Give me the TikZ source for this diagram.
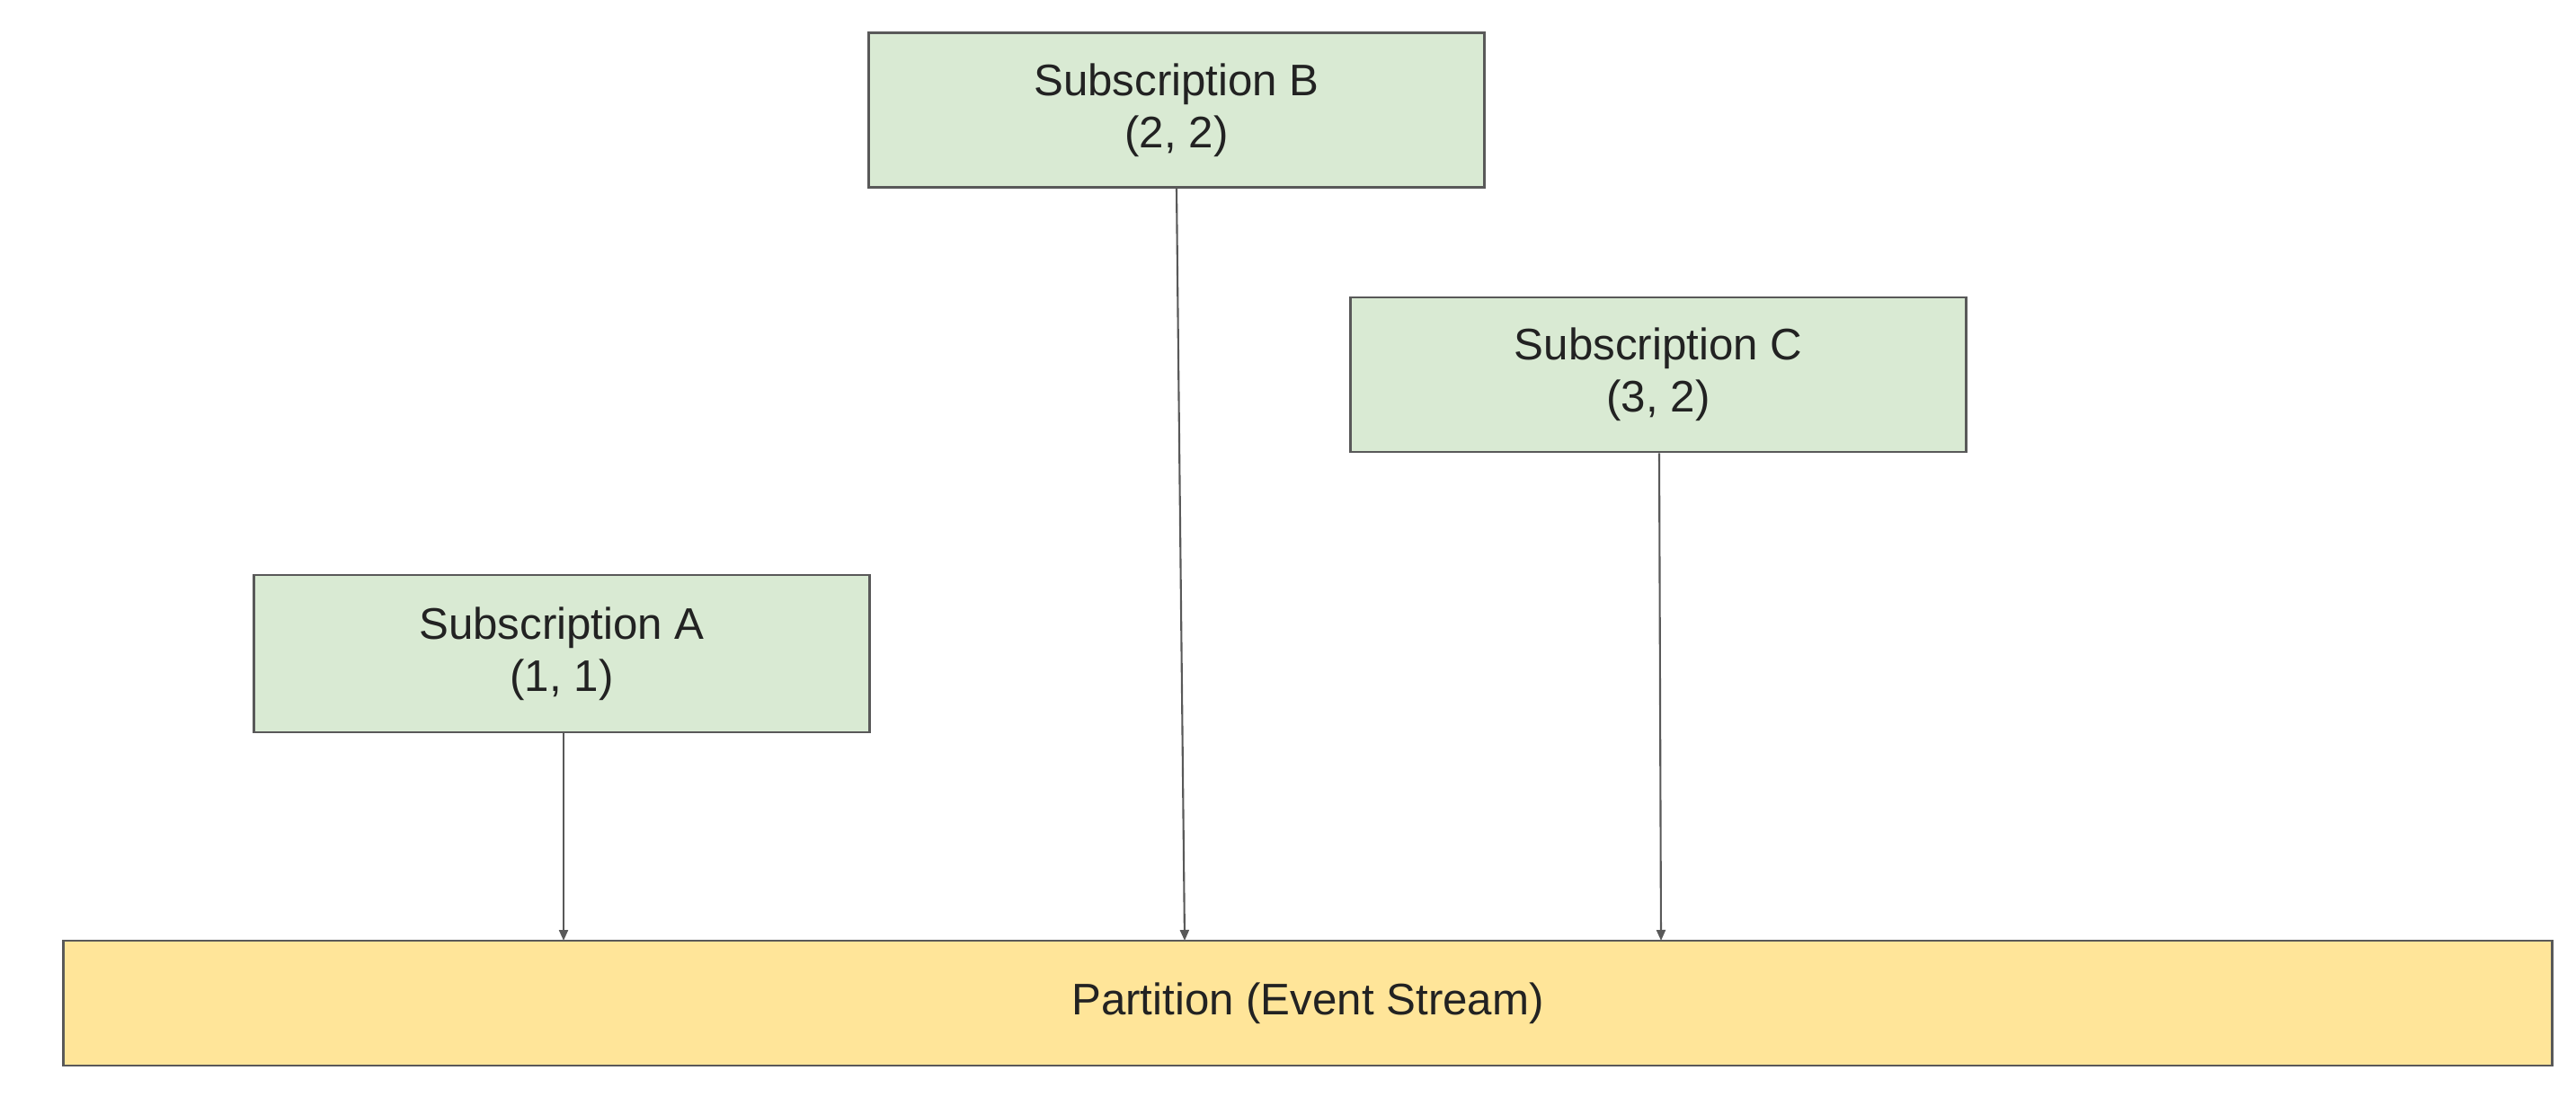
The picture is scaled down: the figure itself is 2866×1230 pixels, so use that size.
\documentclass[tikz,border=0pt]{standalone}
\usepackage{fontspec}
\setmainfont{Liberation Sans}
\usetikzlibrary{arrows.meta}
\definecolor{subfill}{HTML}{D9EAD3}
\definecolor{partfill}{HTML}{FFE599}
\definecolor{edge}{HTML}{595959}
\definecolor{txt}{HTML}{222222}
\begin{document}
\begin{tikzpicture}[x=0.01cm,y=-0.01cm,
  subbox/.style={draw=edge, fill=subfill, line width=0.8pt, inner sep=0pt,
    minimum width=6.84cm, minimum height=1.72cm, align=center, text=txt,
    font=\fontsize{14pt}{16.5pt}\selectfont},
  partbox/.style={draw=edge, fill=partfill, line width=0.8pt, inner sep=0pt,
    minimum width=27.68cm, minimum height=1.39cm, align=center, text=txt,
    font=\fontsize{14pt}{16.5pt}\selectfont},
  conn/.style={draw=edge, line width=0.6pt, -{Triangle[width=0.1cm,length=0.12cm]}}]
\useasboundingbox (0,0) rectangle (2866,1230);
\node[subbox] (B) at (1309,122.5) {Subscription B\\(2, 2)};
\node[subbox] (C) at (1845,417) {Subscription C\\(3, 2)};
\node[subbox, minimum height=1.75cm] (A) at (625,727.5) {Subscription A\\(1, 1)};
\node[partbox] (P) at (1455,1116.5) {Partition (Event Stream)};
\coordinate (tA) at (627,1047);
\coordinate (tB) at (1318,1047);
\coordinate (tC) at (1848,1047);
\coordinate (sA) at (627,815);
\coordinate (sC) at (1846,503);
\draw[conn] (A.south -| sA) -- (tA);
\draw[conn] (B.south) -- (tB);
\draw[conn] (C.south -| sC) -- (tC);
\end{tikzpicture}
\end{document}
